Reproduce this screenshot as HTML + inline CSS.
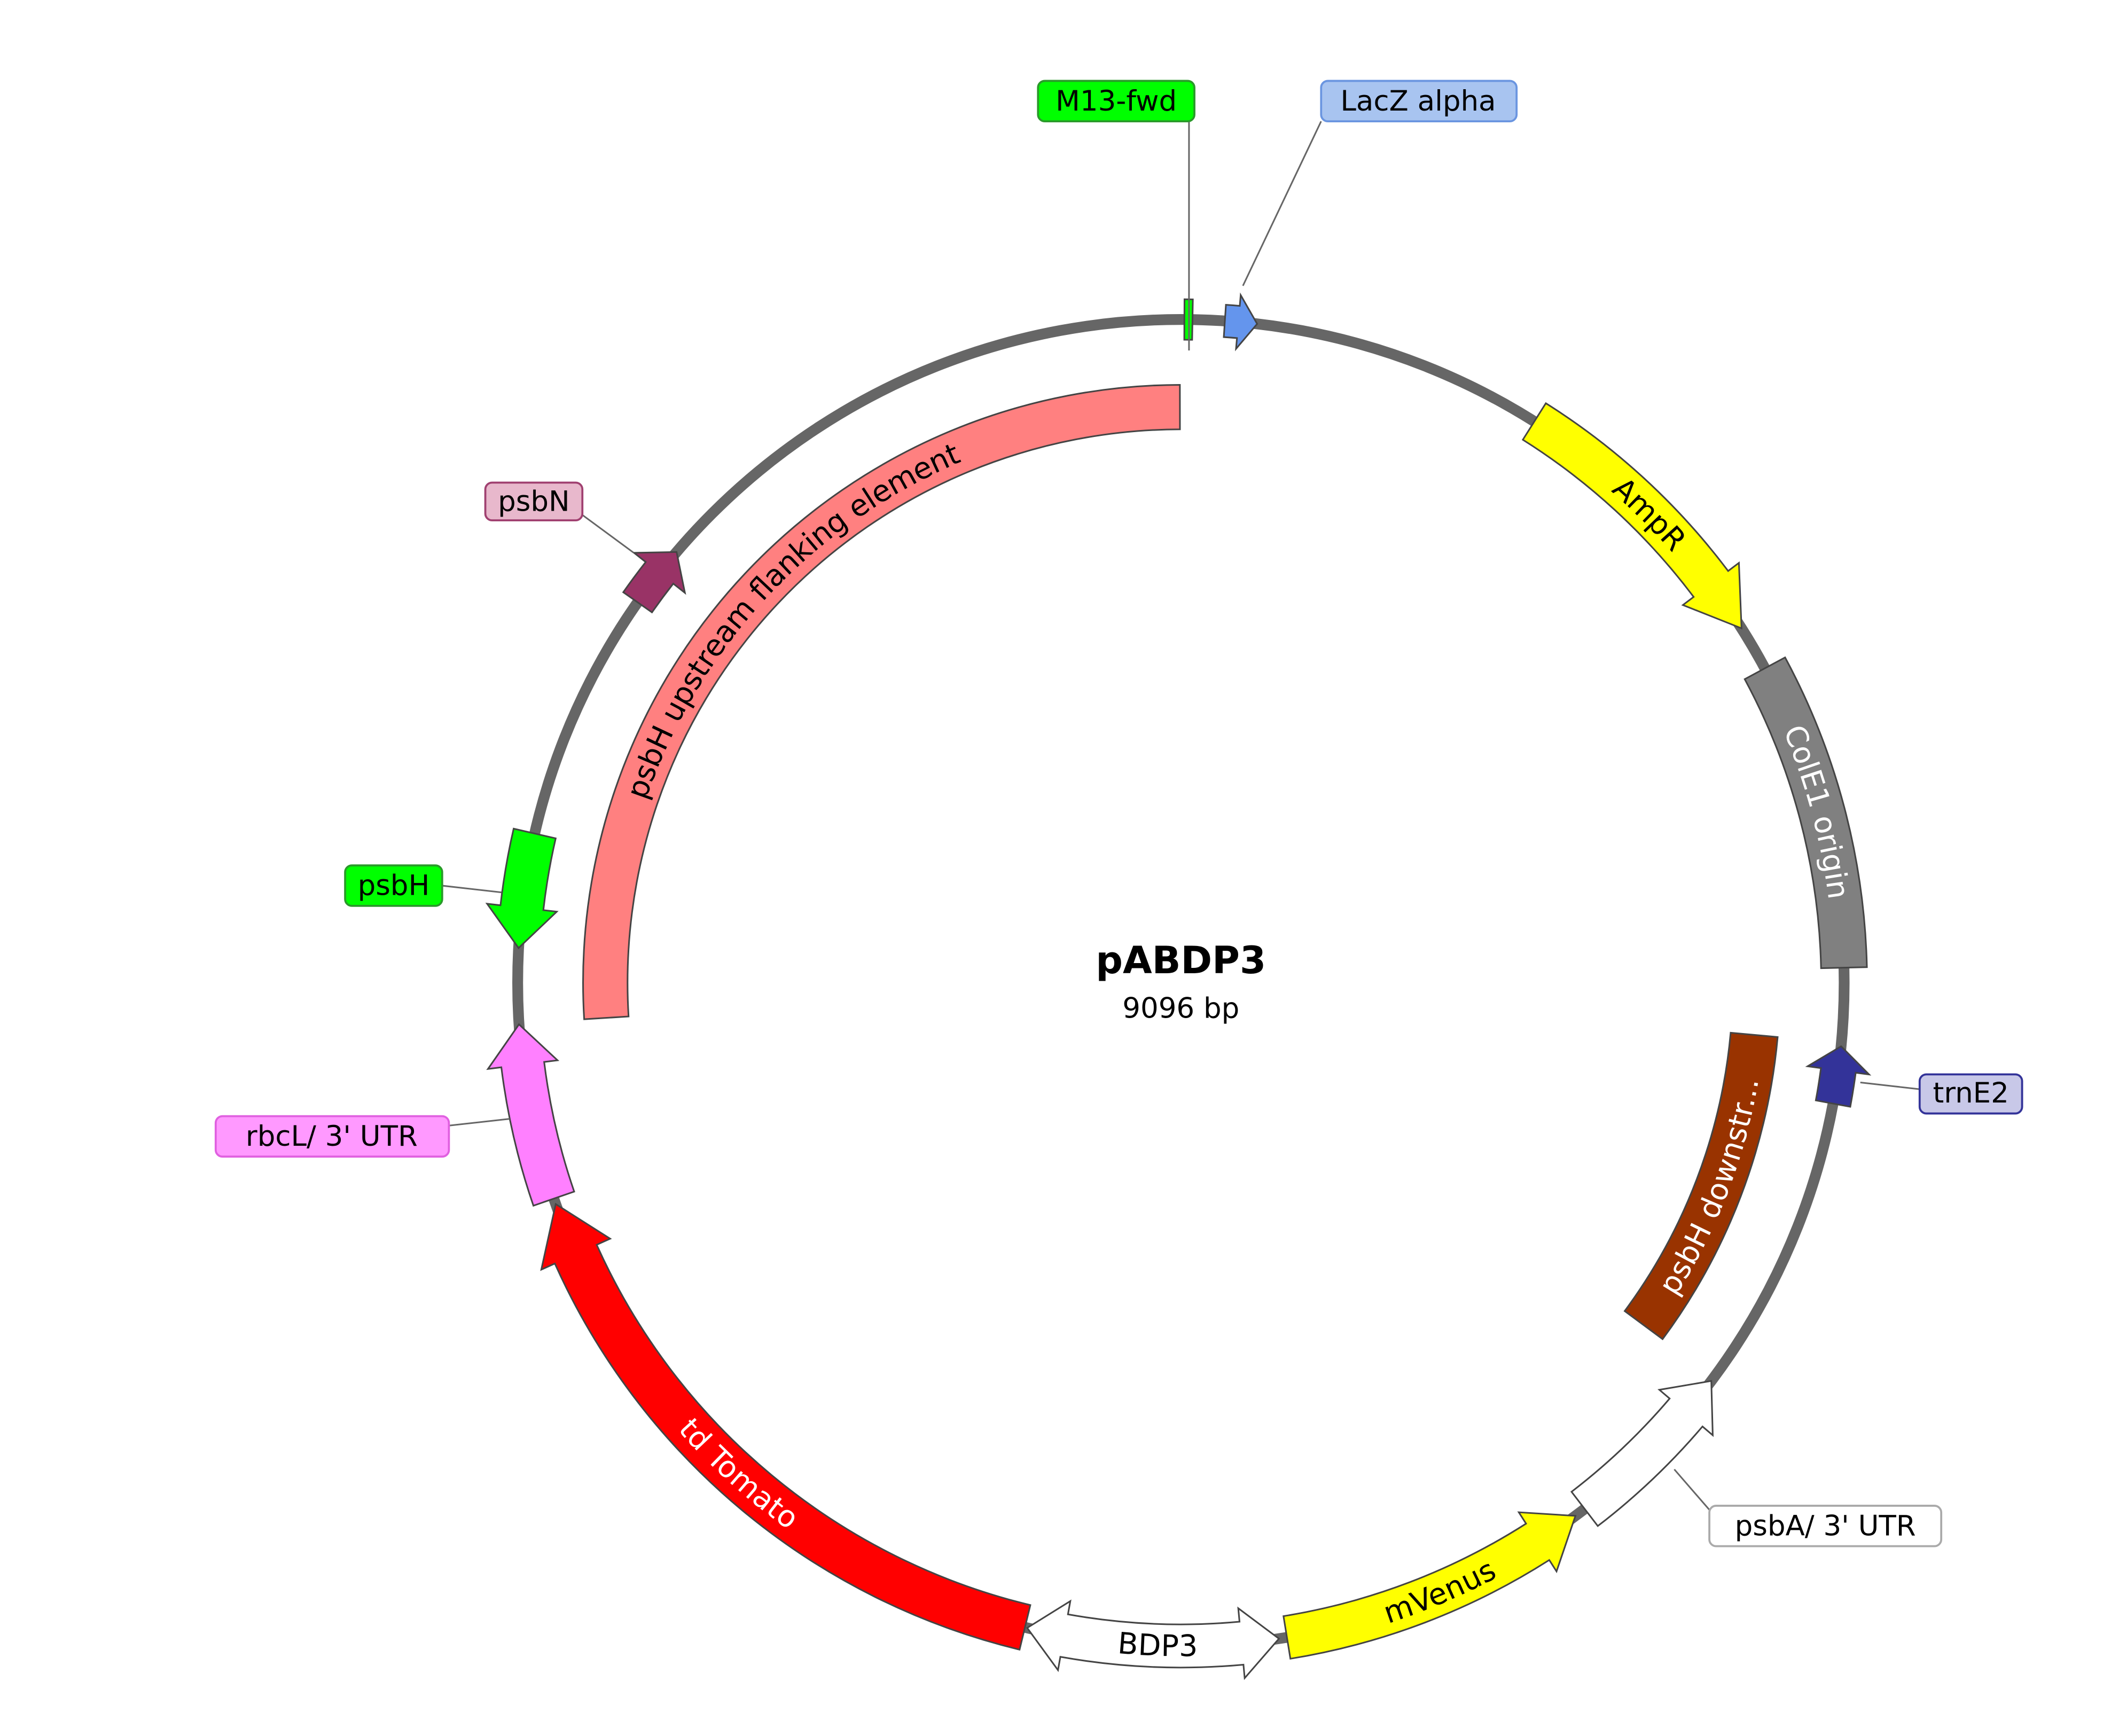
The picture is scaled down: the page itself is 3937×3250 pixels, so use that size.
<!DOCTYPE html>
<html><head><meta charset="utf-8"><style>
html,body{margin:0;padding:0;background:#fff;}
svg{display:block;}
text{font-family:"DejaVu Sans","Liberation Sans",sans-serif;}
</style></head><body>
<svg id="s" width="3937" height="3250" viewBox="0 0 1560 1287.8" xmlns="http://www.w3.org/2000/svg">
<circle cx="876" cy="729" r="492" fill="none" stroke="#666" stroke-width="8"/>
<g id="feat" stroke="#444" stroke-width="1.2"></g>
<defs>
<path id="tAmp"/><path id="tCol"/><path id="tUp"/><path id="tDown"/><path id="tTom"/><path id="tVen"/><path id="tBdp"/>
</defs>
<g font-size="22" text-anchor="middle" dominant-baseline="central">
<text fill="#000"><textPath href="#tAmp" startOffset="50%" dominant-baseline="central">AmpR</textPath></text>
<text fill="#fff"><textPath href="#tCol" startOffset="50%" dominant-baseline="central">ColE1 origin</textPath></text>
<text fill="#000"><textPath href="#tUp" startOffset="50%" dominant-baseline="central">psbH upstream flanking element</textPath></text>
<text fill="#fff"><textPath href="#tDown" startOffset="50%" dominant-baseline="central">psbH downstr...</textPath></text>
<text fill="#fff"><textPath href="#tTom" startOffset="50%" dominant-baseline="central">td Tomato</textPath></text>
<text fill="#000"><textPath href="#tVen" startOffset="50%" dominant-baseline="central">mVenus</textPath></text>
<text fill="#000"><textPath href="#tBdp" startOffset="50%" dominant-baseline="central">BDP3</textPath></text>
</g>
<g stroke="#666" stroke-width="1.2">
<line x1="882" y1="90" x2="882" y2="260"/>
<line x1="980" y1="90" x2="922" y2="212"/>
<line x1="432" y1="382" x2="470" y2="410"/>
<line x1="328" y1="657" x2="372" y2="662"/>
<line x1="333" y1="835" x2="378" y2="830"/>
<line x1="1380" y1="803" x2="1424" y2="808"/>
<line x1="1268" y1="1120" x2="1242" y2="1090"/>
</g>
<g font-size="21" dominant-baseline="central" text-anchor="middle" stroke-width="1.5">
<rect x="770" y="60" width="116" height="30" rx="5" fill="#00ff00" stroke="#2a9a2a"/><text x="828" y="75">M13-fwd</text>
<rect x="980" y="60" width="145" height="30" rx="5" fill="#a8c4f0" stroke="#6a95e0"/><text x="1052" y="75">LacZ alpha</text>
<rect x="360" y="358" width="72" height="28" rx="5" fill="#e8b8cc" stroke="#a04070"/><text x="396" y="372">psbN</text>
<rect x="256" y="642" width="72" height="30" rx="5" fill="#00ff00" stroke="#2a9a2a"/><text x="292" y="657">psbH</text>
<rect x="160" y="828" width="173" height="30" rx="5" fill="#ff99ff" stroke="#e060e0"/><text x="246" y="843">rbcL/ 3' UTR</text>
<rect x="1424" y="797" width="76" height="29" rx="5" fill="#c8c8e8" stroke="#333399"/><text x="1462" y="811">trnE2</text>
<rect x="1268" y="1117" width="172" height="30" rx="5" fill="#fff" stroke="#aaa"/><text x="1354" y="1132">psbA/ 3' UTR</text>
</g>
<text x="876" y="722" font-size="28" font-weight="bold" text-anchor="middle">pABDP3</text>
<text x="876" y="755" font-size="21" text-anchor="middle">9096 bp</text>
</svg>
<script>
const cx=876,cy=729,NS="http://www.w3.org/2000/svg";
function pt(a,r){const t=a*Math.PI/180;return (cx+r*Math.sin(t)).toFixed(2)+","+(cy-r*Math.cos(t)).toFixed(2);}
function A(a1,a2,r){const l=Math.abs(a2-a1)>180?1:0,s=a2>a1?1:0;return ` A${r},${r} 0 ${l} ${s} ${pt(a2,r)}`;}
function feat(s,e,R,w,head,fill,hl,hw){
  const hd=hl/R*180/Math.PI;
  const sH=(head==-1||head==2),eH=(head==1||head==2);
  const bs=s+(sH?hd:0),be=e-(eH?hd:0);
  let d="M"+pt(bs,R+w/2)+A(bs,be,R+w/2);
  if(eH){d+=" L"+pt(be,R+hw/2)+" L"+pt(e,R)+" L"+pt(be,R-hw/2)+" L"+pt(be,R-w/2);}
  else d+=" L"+pt(be,R-w/2);
  d+=A(be,bs,R-w/2);
  if(sH){d+=" L"+pt(bs,R-hw/2)+" L"+pt(s,R)+" L"+pt(bs,R+hw/2);}
  d+=" Z";
  const p=document.createElementNS(NS,"path");p.setAttribute("d",d);p.setAttribute("fill",fill);
  document.getElementById("feat").appendChild(p);
}
const R=492;
feat(0.3,1.0,R,30,0,"#00ff00",0,0);
feat(3.8,6.6,R,24,1,"#6495ed",14,40);
feat(32.2,57.7,R,32,1,"#ffff00",40,52);
feat(61.7,88.7,R,34,0,"#808080",0,0);
feat(95.5,100.5,R,26,-1,"#333399",18,46);
feat(126.9,142.5,R,32,-1,"#ffffff",30,52);
feat(143.5,170.8,R,32,-1,"#ffff00",34,52);
feat(171.5,193.4,R,32,2,"#ffffff",28,52);
feat(193.6,250.5,R,34,1,"#ff0000",40,56);
feat(251,266.4,R,32,1,"#ff80ff",30,52);
feat(273,283,R,32,-1,"#00ff00",30,52);
feat(305,310.5,R,26,1,"#993366",20,48);
feat(266.5,359.9,427,33,0,"#ff8080",0,0);
feat(95.2,126.5,427,35,0,"#993300",0,0);
function tp(id,a1,a2,r){document.getElementById(id).setAttribute("d","M"+pt(a1,r)+A(a1,a2,r));}
tp("tAmp",30,60,492);
tp("tCol",58,92,492);
tp("tUp",262,364,427);
tp("tDown",130,92,427);
tp("tTom",254,190,492);
tp("tVen",174,140,492);
tp("tBdp",196,168,492);
</script>
</body></html>
